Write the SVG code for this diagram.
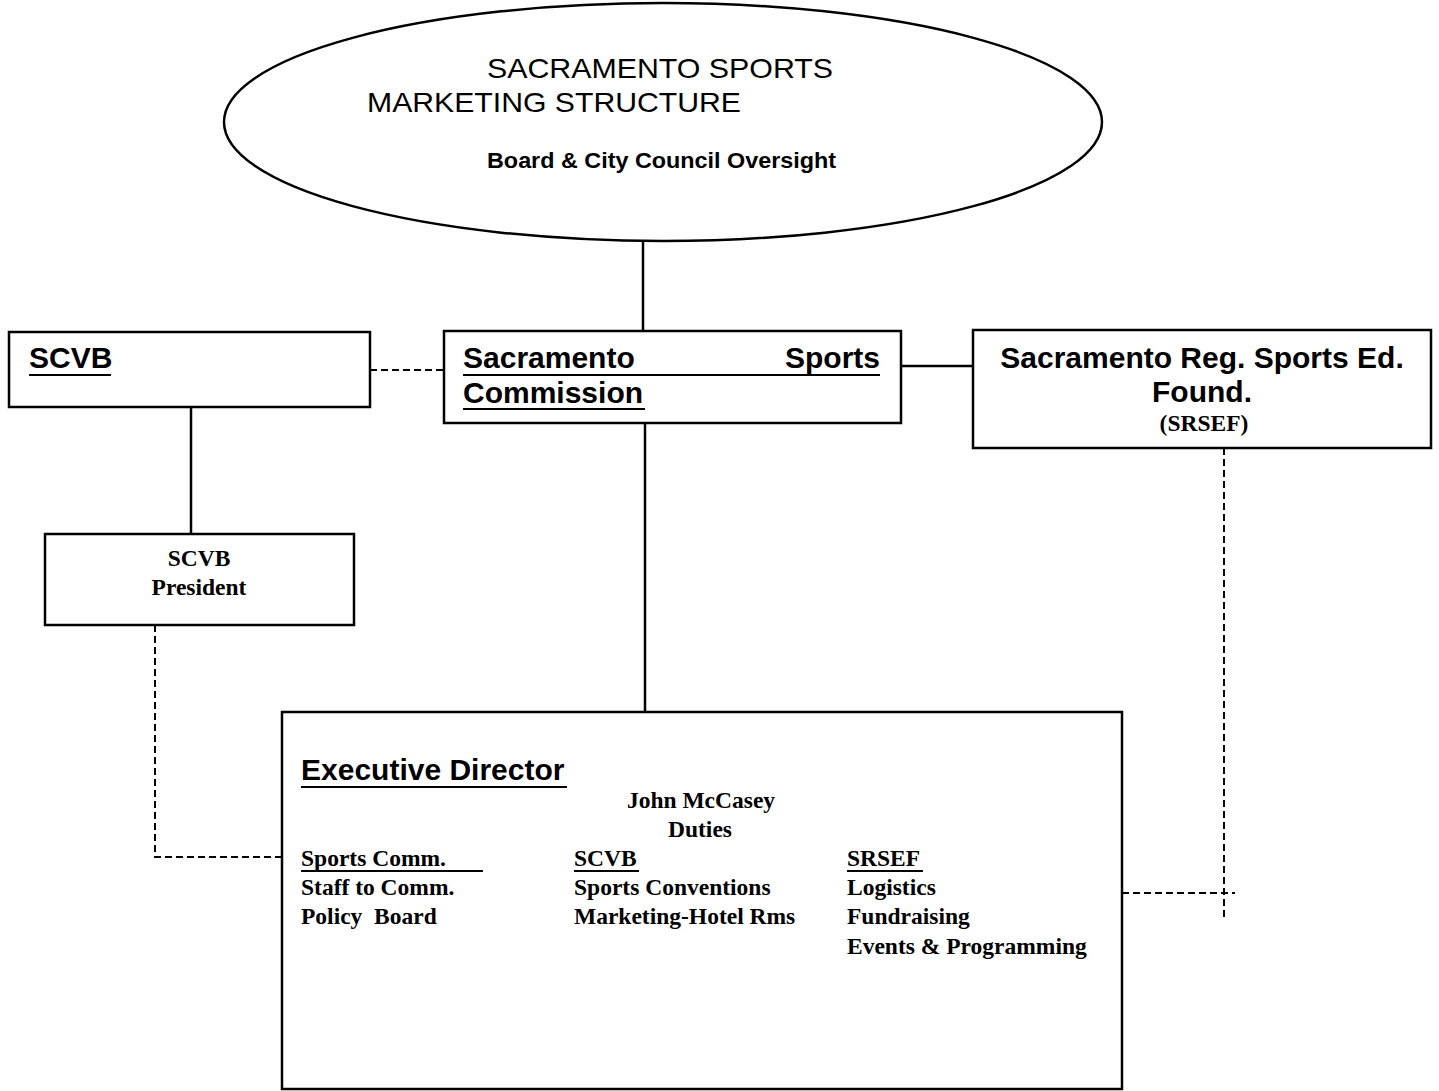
<svg xmlns="http://www.w3.org/2000/svg" width="1439" height="1091" viewBox="0 0 1439 1091">
<style>
.box{fill:#fff;stroke:#000;stroke-width:2.5}
.ln{fill:none;stroke:#000;stroke-width:2.5}
.dash{fill:none;stroke:#000;stroke-width:2;stroke-dasharray:7,4}
.sans{font-family:"Liberation Sans",Arial,sans-serif;fill:#000}
.hb{font-family:"Liberation Sans",Arial,sans-serif;font-weight:bold;font-size:30px;fill:#000}
.ser{font-family:"Liberation Serif","Times New Roman",serif;font-weight:bold;font-size:23.5px;fill:#000;white-space:pre}
.ul{stroke:#000;stroke-width:2}
</style>
<rect width="1439" height="1091" fill="#fff"/>
<g id="connectors">
<line class="ln" x1="643" y1="242" x2="643" y2="331"/>
<line class="dash" x1="370" y1="370" x2="444" y2="370"/>
<line class="ln" x1="901" y1="366" x2="973" y2="366"/>
<line class="ln" x1="191" y1="407" x2="191" y2="534"/>
<line class="ln" x1="645" y1="423" x2="645" y2="712"/>
<polyline class="dash" points="155,625 155,857 282,857"/>
<line class="dash" x1="1122" y1="893" x2="1235" y2="893"/>
<line class="dash" x1="1224" y1="448" x2="1224" y2="918"/>
</g>
<g id="title">
<ellipse cx="663" cy="122" rx="439" ry="119" fill="#fff" stroke="#000" stroke-width="2.5"/>
<text class="sans" x="487" y="78" font-size="28" textLength="346" lengthAdjust="spacingAndGlyphs">SACRAMENTO SPORTS</text>
<text class="sans" x="367" y="112" font-size="28" textLength="374" lengthAdjust="spacingAndGlyphs">MARKETING STRUCTURE</text>
<text class="sans" x="487" y="168" font-size="22" font-weight="bold" textLength="349" lengthAdjust="spacingAndGlyphs">Board &amp; City Council Oversight</text>
</g>
<g id="scvb">
<rect class="box" x="9" y="332" width="361" height="75"/>
<text class="hb" x="29" y="368">SCVB</text>
<line class="ul" x1="29" y1="375" x2="111" y2="375"/>
</g>
<g id="commission">
<rect class="box" x="444" y="331" width="457" height="92"/>
<text class="hb" x="463" y="368">Sacramento</text>
<text class="hb" x="880" y="368" text-anchor="end">Sports</text>
<line class="ul" x1="463" y1="375" x2="880" y2="375"/>
<text class="hb" x="463" y="403">Commission</text>
<line class="ul" x1="463" y1="409" x2="645" y2="409"/>
</g>
<g id="srsef">
<rect class="box" x="973" y="330" width="458" height="118"/>
<text class="hb" x="1202" y="368" text-anchor="middle">Sacramento Reg. Sports Ed.</text>
<text class="hb" x="1202" y="402" text-anchor="middle">Found.</text>
<text class="ser" x="1204" y="431" text-anchor="middle" font-size="19">(SRSEF)</text>
</g>
<g id="president">
<rect class="box" x="45" y="534" width="309" height="91"/>
<text class="ser" x="199" y="566" text-anchor="middle">SCVB</text>
<text class="ser" x="199" y="595" text-anchor="middle">President</text>
</g>
<g id="executive">
<rect class="box" x="282" y="712" width="840" height="377"/>
<text class="hb" x="301" y="780">Executive Director</text>
<line class="ul" x1="301" y1="787" x2="567" y2="787"/>
<text class="ser" x="701" y="808" text-anchor="middle">John McCasey</text>
<text class="ser" x="700" y="837" text-anchor="middle">Duties</text>
<text class="ser" x="301" y="866">Sports Comm.</text>
<line class="ul" x1="301" y1="871" x2="483" y2="871"/>
<text class="ser" x="301" y="895">Staff to Comm.</text>
<text class="ser" x="301" y="924">Policy  Board</text>
<text class="ser" x="574" y="866">SCVB</text>
<line class="ul" x1="574" y1="871" x2="639" y2="871"/>
<text class="ser" x="574" y="895">Sports Conventions</text>
<text class="ser" x="574" y="924">Marketing-Hotel Rms</text>
<text class="ser" x="847" y="866">SRSEF</text>
<line class="ul" x1="847" y1="871" x2="923" y2="871"/>
<text class="ser" x="847" y="895">Logistics</text>
<text class="ser" x="847" y="924">Fundraising</text>
<text class="ser" x="847" y="954">Events &amp; Programming</text>
</g>
</svg>
